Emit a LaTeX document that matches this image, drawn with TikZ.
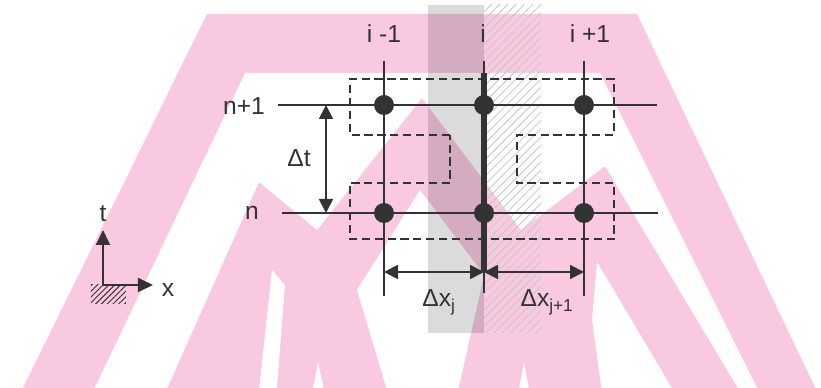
\documentclass[tikz,border=0pt]{standalone}
\usepackage{fontspec}
\setmainfont{Liberation Sans}
\usetikzlibrary{arrows.meta,patterns.meta}
\definecolor{wmpink}{RGB}{249,200,225}
\definecolor{ink}{RGB}{51,51,51}
\tikzset{
  gridline/.style={draw=ink, line width=1.5pt},
  mainline/.style={draw=ink, line width=4.3pt},
  dot/.style={circle, fill=ink, inner sep=0pt, minimum size=6mm},
  dimarrow/.style={draw=ink, line width=1.5pt, {Triangle[length=4.2mm,width=4.2mm]}-{Triangle[length=4.2mm,width=4.2mm]}},
  axisarrow/.style={draw=ink, line width=1.5pt, -{Triangle[length=4.5mm,width=4.2mm]}},
  cell/.style={draw=ink, line width=1.1pt, dash pattern=on 7pt off 4pt},
  lbl/.style={font=\fontsize{21}{25}\selectfont, text=ink, inner sep=0pt, anchor=base},
}
\begin{document}
\begin{tikzpicture}[x=3cm, y=3cm]
    \useasboundingbox (-3.84,-1.75) rectangle (4.37,2.13);
    \clip (-3.84,-1.75) rectangle (4.37,2.13);

    % watermark
    \begin{scope}[x=0.3mm, y=-0.3mm, shift={(-384,-213)}]
        \fill[wmpink] (17,400) -- (207,14) -- (637,14) -- (821,400) -- cycle;
        \fill[white] (245,73) -- (600,73) -- (763,400) -- (745,400) -- (605,166) -- (583,183) -- (521,230) -- (422,98) -- (317,230) -- (259,182) -- (162,400) -- (89,400) -- cycle;
        \fill[white] (272,270) -- (285,285) -- (276,400) -- (258,400) -- cycle;
        \fill[white] (318,362) -- (326,400) -- (311,400) -- cycle;
        \fill[white] (420,190) -- (484,275) -- (456,400) -- (390,400) -- (357,290) -- cycle;
        \fill[white] (524,362) -- (531,400) -- (517,400) -- cycle;
        \fill[white] (597,262) -- (679,400) -- (603,400) -- (592,320) -- cycle;
    \end{scope}

    % shaded bands
    \fill[black, opacity=0.14] (0.44,2.08) rectangle (1.00,-1.20);
    \fill[pattern={Lines[angle=45,distance=5pt,line width=0.7pt]}, pattern color=black!22] (1.00,2.08) rectangle (1.57,-1.20);

    % cells
    \draw[cell] (0.66,0.78) -- (-0.34,0.78) -- (-0.34,1.34) -- (2.30,1.34) -- (2.30,0.78) -- (1.33,0.78) -- (1.33,0.30) -- (2.30,0.30) -- (2.30,-0.26) -- (-0.34,-0.26) -- (-0.34,0.30) -- (0.66,0.30) -- cycle;

    % grid
    \coordinate (mL) at (-1.06,1.08);
    \coordinate (mR) at (2.73,1.08);
    \coordinate (nL) at (-1.02,0);
    \coordinate (nR) at (2.74,0);
    \foreach \k/\x/\b in {0/0/-0.83, 1/1/-0.80, 2/2/-0.83} {
        \coordinate (top\k) at (\x,1.52);
        \coordinate (bot\k) at (\x,\b);
        \coordinate (dx\k) at (\x,-0.59);
    }
    \coordinate (iT) at (1,1.40);
    \draw[gridline] (mL) -- (mR);
    \draw[gridline] (nL) -- (nR);
    \foreach \k in {0,1,2} {
        \draw[gridline] (top\k) -- (bot\k);
    }
    \draw[mainline] (iT) -- (dx1);
    \foreach \k/\x in {0/0, 1/1, 2/2} {
        \node[dot] (a\k) at (\x,1.08) {};
        \node[dot] (b\k) at (\x,0) {};
    }

    % steps
    \coordinate (dtT) at (-0.58,1.08);
    \coordinate (dtB) at (-0.58,0);
    \draw[dimarrow] (dtT) -- (dtB);
    \draw[dimarrow] (dx0) -- (dx1);
    \draw[dimarrow] (dx1) -- (dx2);

    % labels
    \node[lbl] (lim) at (0,1.70) {i -1};
    \node[lbl] (li) at (0.99,1.70) {i};
    \node[lbl] (lip) at (2.06,1.70) {i +1};
    \node[lbl] (lnp) at (-1.40,0.98) {n+1};
    \node[lbl] (ln) at (-1.32,-0.07) {n};
    \node[lbl] (ldt) at (-0.85,0.46) {Δt};
    \node[lbl] (ldxj) at (0.55,-0.94) {Δx\textsubscript{j}};
    \node[lbl] (ldxk) at (1.63,-0.94) {Δx\textsubscript{j+1}};

    % axes
    \coordinate (o) at (-2.81,-0.72);
    \coordinate (tT) at (-2.81,-0.17);
    \coordinate (xT) at (-2.31,-0.72);
    \fill[pattern={Lines[angle=45,distance=3.5pt,line width=0.8pt]}, pattern color=ink] (-2.93,-0.72) rectangle (-2.58,-0.91);
    \draw[axisarrow] (o) -- (tT);
    \draw[axisarrow] (o) -- (xT);
    \node[lbl] (lt) at (-2.81,-0.09) {t};
    \node[lbl] (lx) at (-2.16,-0.84) {x};
\end{tikzpicture}
\end{document}
